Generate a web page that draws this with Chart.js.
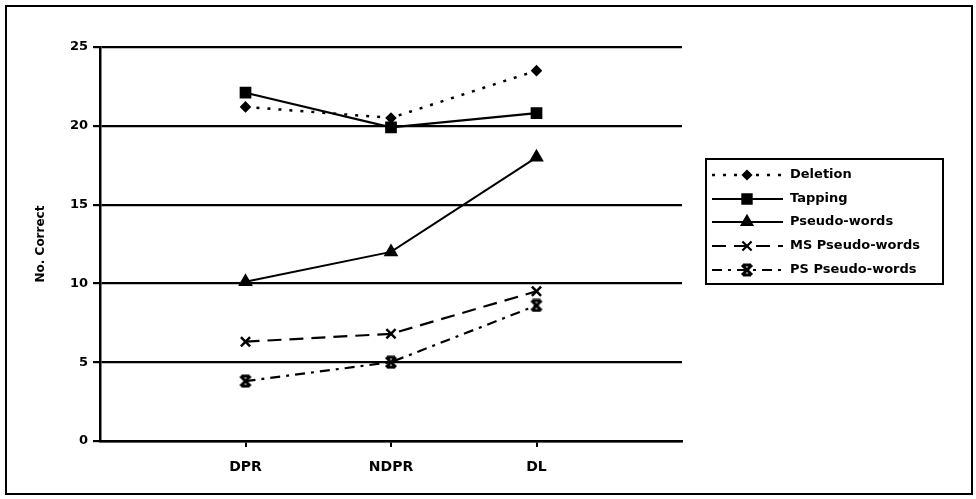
<!DOCTYPE html>
<html>
<head>
<meta charset="utf-8">
<script src="https://cdn.jsdelivr.net/npm/chart.js@4"></script>
<style>
html,body{margin:0;padding:0;background:#fff;}
#wrap{position:relative;width:976px;height:499px;}
#frame{position:absolute;left:5px;top:5px;width:968px;height:490px;border:2px solid #000;box-sizing:border-box;pointer-events:none;}
</style>
</head>
<body>
<div id="wrap">
<canvas id="c" width="976" height="499"></canvas>
<div id="frame"></div>
</div>
<script>
const categories = ['DPR', 'NDPR', 'DL'];
const yTicks = [0, 5, 10, 15, 20, 25];
const seriesNames = ['Deletion', 'Tapping', 'Pseudo-words', 'MS Pseudo-words', 'PS Pseudo-words'];
const deletion = [21.2, 20.5, 23.5];
const tapping = [22.1, 19.9, 20.8];
const pseudoWords = [10.1, 12.0, 18.0];
const msPseudoWords = [6.3, 6.8, 9.5];
const psPseudoWords = [3.8, 5.0, 8.6];

const FONT = '"DejaVu Sans", "Liberation Sans", Arial, sans-serif';

// Excel-like "star" marker: X with horizontal bars
function starMarker(size) {
  const cv = document.createElement('canvas');
  cv.width = size; cv.height = size;
  const g = cv.getContext('2d');
  g.strokeStyle = '#000'; g.lineWidth = 3; g.lineCap = 'butt';
  const m = 2, s = size - 2;
  g.beginPath();
  g.moveTo(m, m); g.lineTo(s, s);
  g.moveTo(s, m); g.lineTo(m, s);
  g.moveTo(m + 1, m); g.lineTo(s - 1, m);
  g.moveTo(m + 1, s); g.lineTo(s - 1, s);
  g.stroke();
  return cv;
}
const psMarker = starMarker(14);

function pts(arr) { return arr.map((v, i) => ({ x: i + 1, y: v })); }

const styles = [
  { borderDash: [3, 8], borderWidth: 2.5, pointStyle: 'rectRot', pointRadius: 4 },
  { borderDash: [], borderWidth: 2.2, pointStyle: 'rect', pointRadius: 6.5 },
  { borderDash: [], borderWidth: 2, pointStyle: 'triangle', pointRadius: 6 },
  { borderDash: [14, 8], borderWidth: 2.2, pointStyle: 'crossRot', pointRadius: 6.5 },
  { borderDash: [10, 6, 3, 6], borderWidth: 2.2, pointStyle: psMarker, pointRadius: 7 }
];
const seriesData = [deletion, tapping, pseudoWords, msPseudoWords, psPseudoWords];

const datasets = seriesData.map((d, i) => ({
  label: seriesNames[i],
  data: pts(d),
  borderColor: '#000',
  backgroundColor: '#000',
  pointBackgroundColor: '#000',
  pointBorderColor: '#000',
  pointBorderWidth: 2.5,
  borderWidth: styles[i].borderWidth,
  borderDash: styles[i].borderDash,
  pointStyle: styles[i].pointStyle,
  pointRadius: styles[i].pointRadius,
  tension: 0,
  fill: false
}));

const legendPlugin = {
  id: 'boxLegend',
  afterDraw(chart) {
    const ctx = chart.ctx;
    const x0 = 706, y0 = 159, x1 = 943, y1 = 284;
    ctx.save();
    ctx.strokeStyle = '#000'; ctx.lineWidth = 2; ctx.setLineDash([]);
    ctx.strokeRect(x0, y0, x1 - x0, y1 - y0);
    const rows = [175, 199, 222, 246, 270];
    chart.data.datasets.forEach((ds, i) => {
      const y = rows[i];
      ctx.save();
      ctx.strokeStyle = '#000';
      ctx.lineWidth = ds.borderWidth;
      ctx.setLineDash(ds.borderDash || []);
      ctx.beginPath(); ctx.moveTo(712, y); ctx.lineTo(783, y); ctx.stroke();
      ctx.restore();
      ctx.save();
      ctx.fillStyle = '#000'; ctx.strokeStyle = '#000'; ctx.lineWidth = 2.2;
      Chart.helpers.drawPoint(ctx, { pointStyle: ds.pointStyle, radius: ds.pointRadius, rotation: 0, borderWidth: 2.2 }, 747, y);
      ctx.restore();
      ctx.fillStyle = '#000';
      ctx.font = 'bold 13px ' + FONT;
      ctx.textBaseline = 'middle';
      ctx.textAlign = 'left';
      ctx.fillText(ds.label, 790, y);
    });
    ctx.restore();
  }
};

new Chart(document.getElementById('c'), {
  type: 'line',
  data: { datasets },
  options: {
    responsive: false,
    animation: false,
    devicePixelRatio: 1,
    layout: { padding: { left: 30, top: 47, right: 294, bottom: 10 } },
    plugins: { legend: { display: false }, tooltip: { enabled: false } },
    scales: {
      x: {
        type: 'linear',
        min: 0, max: 4,
        afterBuildTicks: s => { s.ticks = categories.map((c, i) => ({ value: i + 1 })); },
        afterFit: s => { s.height = 48; },
        ticks: {
          callback: v => categories[v - 1] || '',
          color: '#000',
          font: { family: FONT, size: 14, weight: 'bold' },
          padding: 12,
          maxRotation: 0
        },
        grid: { drawOnChartArea: false, drawTicks: true, tickLength: 6, color: '#000', lineWidth: 2 },
        border: { display: true, color: '#000', width: 2.5 }
      },
      y: {
        min: 0, max: 25,
        afterBuildTicks: s => { s.ticks = yTicks.map(v => ({ value: v })); },
        afterFit: s => { s.width = 70; },
        ticks: {
          color: '#000',
          font: { family: FONT, size: 13, weight: 'bold' },
          padding: 5
        },
        grid: { color: '#000', lineWidth: 2.2, tickLength: 7, drawTicks: true },
        border: { display: true, color: '#000', width: 2.5 },
        title: {
          display: true,
          text: 'No. Correct',
          color: '#000',
          font: { family: FONT, size: 12, weight: 'bold' },
          padding: { top: 4, bottom: 0 }
        }
      }
    }
  },
  plugins: [legendPlugin]
});
</script>
</body>
</html>
